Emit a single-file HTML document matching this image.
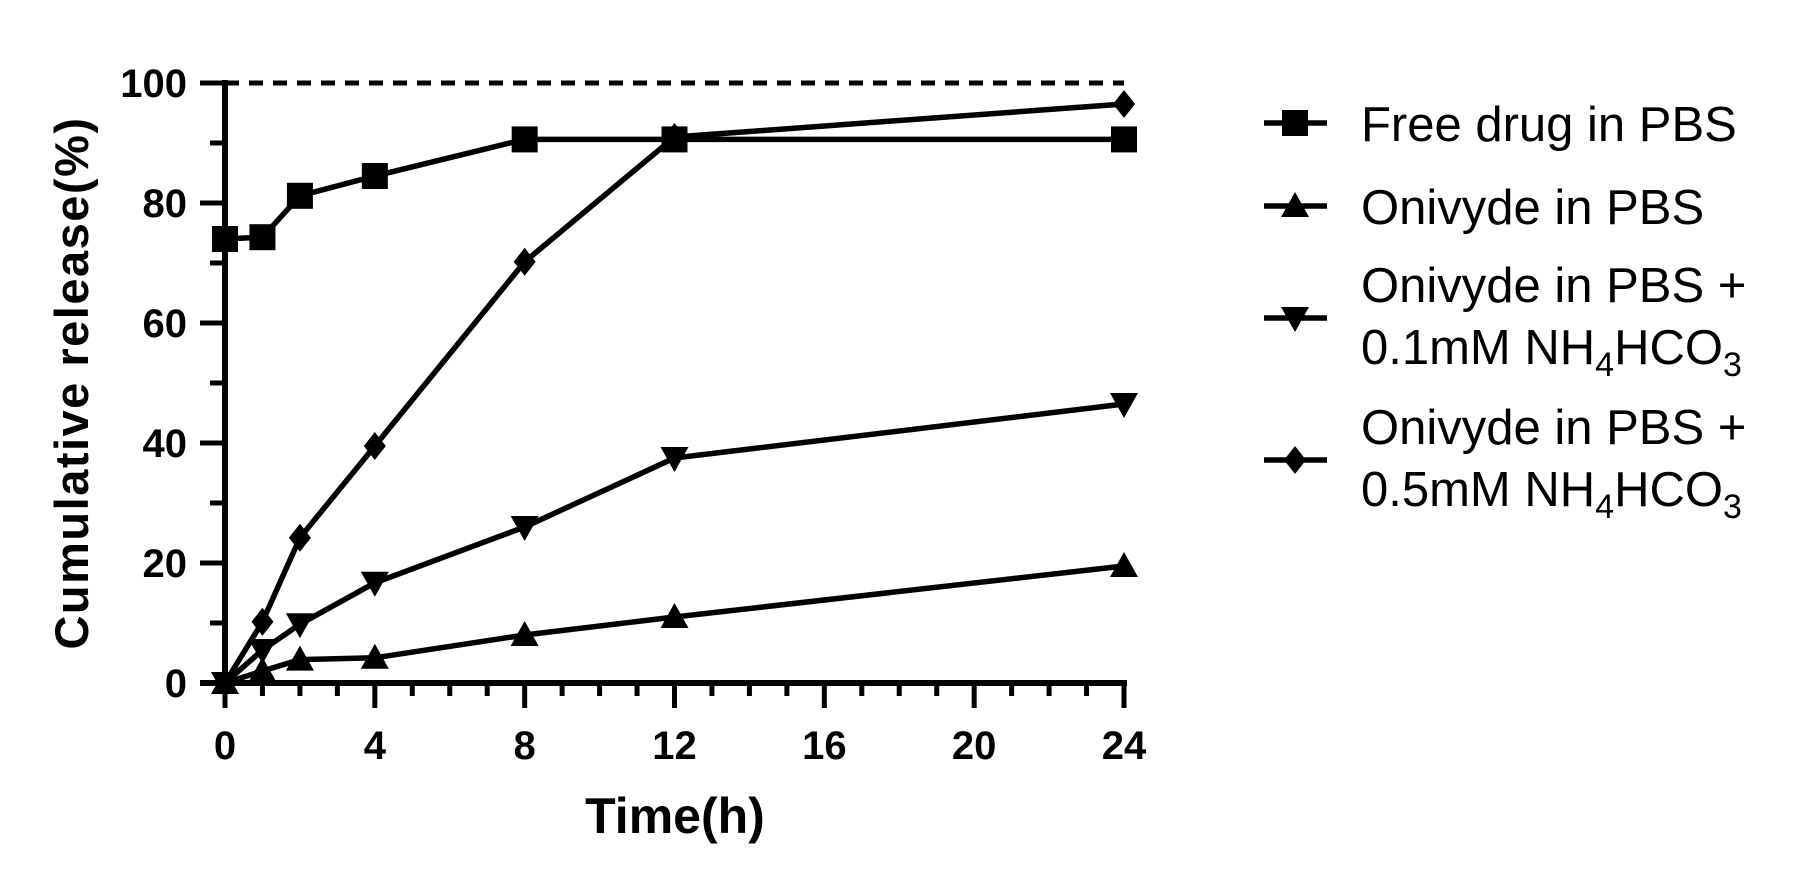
<!DOCTYPE html>
<html><head><meta charset="utf-8"><style>
html,body{margin:0;padding:0;background:#fff;}
svg{display:block;font-family:"Liberation Sans",Arial,sans-serif;}
</style></head><body>
<svg id="chart" width="1793" height="887" viewBox="0 0 1793 887">
<g id="axes"></g><g id="series"></g><g id="legend"></g>
</svg>
<script>
const times = [0, 1, 2, 4, 8, 12, 24];
const freeDrug = [74, 74.3, 81.2, 84.5, 90.6, 90.6, 90.6];
const onivyde = [0, 2, 3.9, 4.2, 8, 11, 19.5];
const onivyde01 = [0, 5.5, 9.8, 16.7, 26, 37.5, 46.5];
const onivyde05 = [0, 10.2, 24.2, 39.5, 70.2, 91, 96.5];
const xTicks = [0, 4, 8, 12, 16, 20, 24];
const yTicks = [0, 20, 40, 60, 80, 100];
const seriesNames = ["Free drug in PBS", "Onivyde in PBS", "Onivyde in PBS + 0.1mM NH4HCO3", "Onivyde in PBS + 0.5mM NH4HCO3"];

const NS = "http://www.w3.org/2000/svg";
const X0 = 225, X1 = 1124, Y0 = 683, Y1 = 83;
const xs = v => X0 + (v - 0) / 24 * (X1 - X0);
const ys = v => Y0 - v / 100 * (Y0 - Y1);
function mk(tag, attrs, parent) {
  const e = document.createElementNS(NS, tag);
  for (const k in attrs) e.setAttribute(k, attrs[k]);
  parent.appendChild(e);
  return e;
}
const axes = document.getElementById('axes');
const ser = document.getElementById('series');
const leg = document.getElementById('legend');

let ref = mk('line', {x1: X0, x2: X1, y1: ys(100), y2: ys(100), stroke: '#000', 'stroke-width': 5, 'stroke-dasharray': '14 10'}, axes);



let ya = mk('line', {x1: X0, x2: X0, y1: ys(100) - 3, y2: Y0 + 3, stroke: '#000', 'stroke-width': 6}, axes);


let xa = mk('line', {x1: X0 - 25, x2: X1 + 3, y1: Y0, y2: Y0, stroke: '#000', 'stroke-width': 6}, axes);



for (let v = 0; v <= 100; v += 10) {
  const major = v % 20 === 0;
  const t = mk('line', {x1: X0 - (major ? 25 : 15), x2: X0, y1: ys(v), y2: ys(v), stroke: '#000', 'stroke-width': 5}, axes);
  
  
}
yTicks.forEach(v => {
  const t = mk('text', {x: 187, y: ys(v) + 14, 'text-anchor': 'end', 'font-size': 40, 'font-weight': 'bold'}, axes);
  t.textContent = v;
  
  
});
for (let h = 0; h <= 24; h++) {
  const major = h % 4 === 0;
  const t = mk('line', {x1: xs(h), x2: xs(h), y1: Y0, y2: Y0 + (major ? 25 : 13), stroke: '#000', 'stroke-width': 5}, axes);
  
  
}
xTicks.forEach(v => {
  const t = mk('text', {x: xs(v), y: 759, 'text-anchor': 'middle', 'font-size': 40, 'font-weight': 'bold'}, axes);
  t.textContent = v;
  
  
});
let xt = mk('text', {x: 675, y: 833, 'text-anchor': 'middle', 'font-size': 50, 'font-weight': 'bold'}, axes);
xt.textContent = 'Time(h)';


let yt = mk('text', {x: 0, y: 0, transform: 'translate(88,383) rotate(-90)', 'text-anchor': 'middle', 'font-size': 47, 'font-weight': 'bold', 'letter-spacing': '1.5'}, axes);
yt.textContent = 'Cumulative release(%)';



function marker(kind, cx, cy, parent) {
  let e;
  if (kind === 'square') e = mk('rect', {x: cx - 13, y: cy - 13, width: 26, height: 26, fill: '#000'}, parent);
  else if (kind === 'up') e = mk('polygon', {points: `${cx},${cy-14} ${cx+14},${cy+11} ${cx-14},${cy+11}`, fill: '#000'}, parent);
  else if (kind === 'down') e = mk('polygon', {points: `${cx},${cy+14} ${cx+14},${cy-11} ${cx-14},${cy-11}`, fill: '#000'}, parent);
  else e = mk('polygon', {points: `${cx},${cy-14} ${cx+11},${cy} ${cx},${cy+14} ${cx-11},${cy}`, fill: '#000'}, parent);
  return e;
}
const allSeries = [[freeDrug, 'square', 'free-drug'], [onivyde, 'up', 'onivyde'], [onivyde01, 'down', 'onivyde-01mm'], [onivyde05, 'diamond', 'onivyde-05mm']];
allSeries.forEach(([vals, kind, name]) => {
  const g = mk('g', {}, ser);
  
  
  const pts = times.map((t, i) => xs(t) + ',' + ys(vals[i])).join(' ');
  const pl = mk('polyline', {points: pts, fill: 'none', stroke: '#000', 'stroke-width': 5.5, 'stroke-linejoin': 'round'}, g);
  
  
  times.forEach((t, i) => {
    const m = marker(kind, xs(t), ys(vals[i]), g);
    
    
  });
});

const legY = [123, 206, 318, 460];
const kinds = ['square', 'up', 'down', 'diamond'];
seriesNames.forEach((n, i) => {
  const g = mk('g', {}, leg);
  
  
  mk('line', {x1: 1264, x2: 1327, y1: legY[i], y2: legY[i], stroke: '#000', 'stroke-width': 5.5}, g);
  marker(kinds[i], 1295, legY[i], g);
  if (i < 2) {
    const t = mk('text', {x: 1361, y: legY[i] + 18, 'font-size': 49}, g);
    t.textContent = n;
  } else {
    const t1 = mk('text', {x: 1361, y: legY[i] - 16, 'font-size': 49}, g);
    t1.textContent = 'Onivyde in PBS +';
    const t2 = mk('text', {x: 1361, y: legY[i] + 46, 'font-size': 49}, g);
    const conc = i === 2 ? '0.1mM NH' : '0.5mM NH';
    t2.innerHTML = conc + '<tspan font-size="34" dy="12">4</tspan><tspan dy="-12">HCO</tspan><tspan font-size="34" dy="12">3</tspan>';
  }
});
</script>
</body></html>
